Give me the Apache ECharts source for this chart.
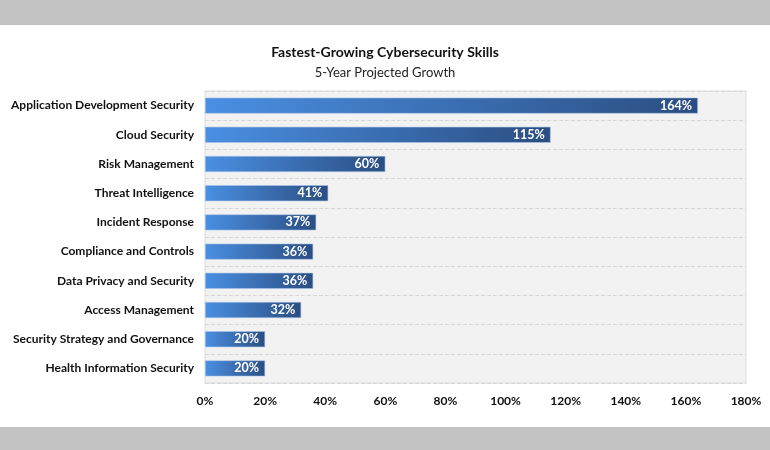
<!DOCTYPE html>
<html>
<head>
<meta charset="utf-8">
<script src="https://cdn.jsdelivr.net/npm/echarts@6/dist/echarts.min.js"></script>
<style>
	html, body { margin: 0; padding: 0; background: #c3c3c3; width: 770px; height: 450px; overflow: hidden; }
	#main { position: absolute; left: 0; top: 25px; width: 770px; height: 402px; background: #ffffff; }
</style>
</head>
<body>
<div id="main"></div>
<script>
// skills, top to bottom as in the picture
var skills = [
	'Application Development Security',
	'Cloud Security',
	'Risk Management',
	'Threat Intelligence',
	'Incident Response',
	'Compliance and Controls',
	'Data Privacy and Security',
	'Access Management',
	'Security Strategy and Governance',
	'Health Information Security'
];
// projected growth, percent
var growth = [164, 115, 60, 41, 37, 36, 36, 32, 20, 20];

var chart = echarts.init(document.getElementById('main'));

// category axis runs bottom-up, so reverse
var cats = skills.slice().reverse();
var vals = growth.slice().reverse();

var option = {
	backgroundColor: '#ffffff',
	textStyle: { fontFamily: 'Lato' },
	title: [
		{
			text: 'Fastest-Growing Cybersecurity Skills',
			left: 'center',
			top: 15,
			textStyle: { fontFamily: 'Lato', fontSize: 14, fontWeight: 'bold', color: '#111111' }
		},
		{
			text: '5-Year Projected Growth',
			left: 'center',
			top: 36,
			textStyle: { fontFamily: 'Lato', fontSize: 13, fontWeight: 'normal', color: '#222222' }
		}
	],
	grid: {
		left: 205,
		right: 24,
		top: 66,
		bottom: 44,
		show: true,
		backgroundColor: '#f2f2f2',
		borderColor: '#dddddd',
		borderWidth: 1
	},
	xAxis: {
		type: 'value',
		min: 0,
		max: 180,
		interval: 20,
		axisLine: { show: false },
		axisTick: { show: false },
		splitLine: { show: false },
		axisLabel: {
			formatter: '{value}%',
			color: '#111111',
			fontWeight: 'bold',
			fontSize: 12,
			margin: 12
		}
	},
	yAxis: {
		type: 'category',
		data: cats,
		axisLine: { show: false },
		axisTick: { show: false },
		splitLine: {
			show: true,
			lineStyle: { color: '#d6d6d6', type: 'dashed', width: 1 }
		},
		axisLabel: {
			color: '#111111',
			fontWeight: 'bold',
			fontSize: 12,
			margin: 11
		}
	},
	series: [
		{
			type: 'bar',
			data: vals,
			barWidth: 16,
			itemStyle: {
				color: new echarts.graphic.LinearGradient(0, 0, 1, 0, [
					{ offset: 0, color: '#4a8fe2' },
					{ offset: 1, color: '#2b4e82' }
				]),
				borderColor: '#a9c4e6',
				borderWidth: 0.6
			},
			label: {
				show: true,
				position: 'insideRight',
				distance: 6,
				formatter: '{c}%',
				color: '#ffffff',
				fontWeight: 'bold',
				fontSize: 12.5
			},
			silent: true
		}
	]
};

chart.setOption(option);
</script>
</body>
</html>
